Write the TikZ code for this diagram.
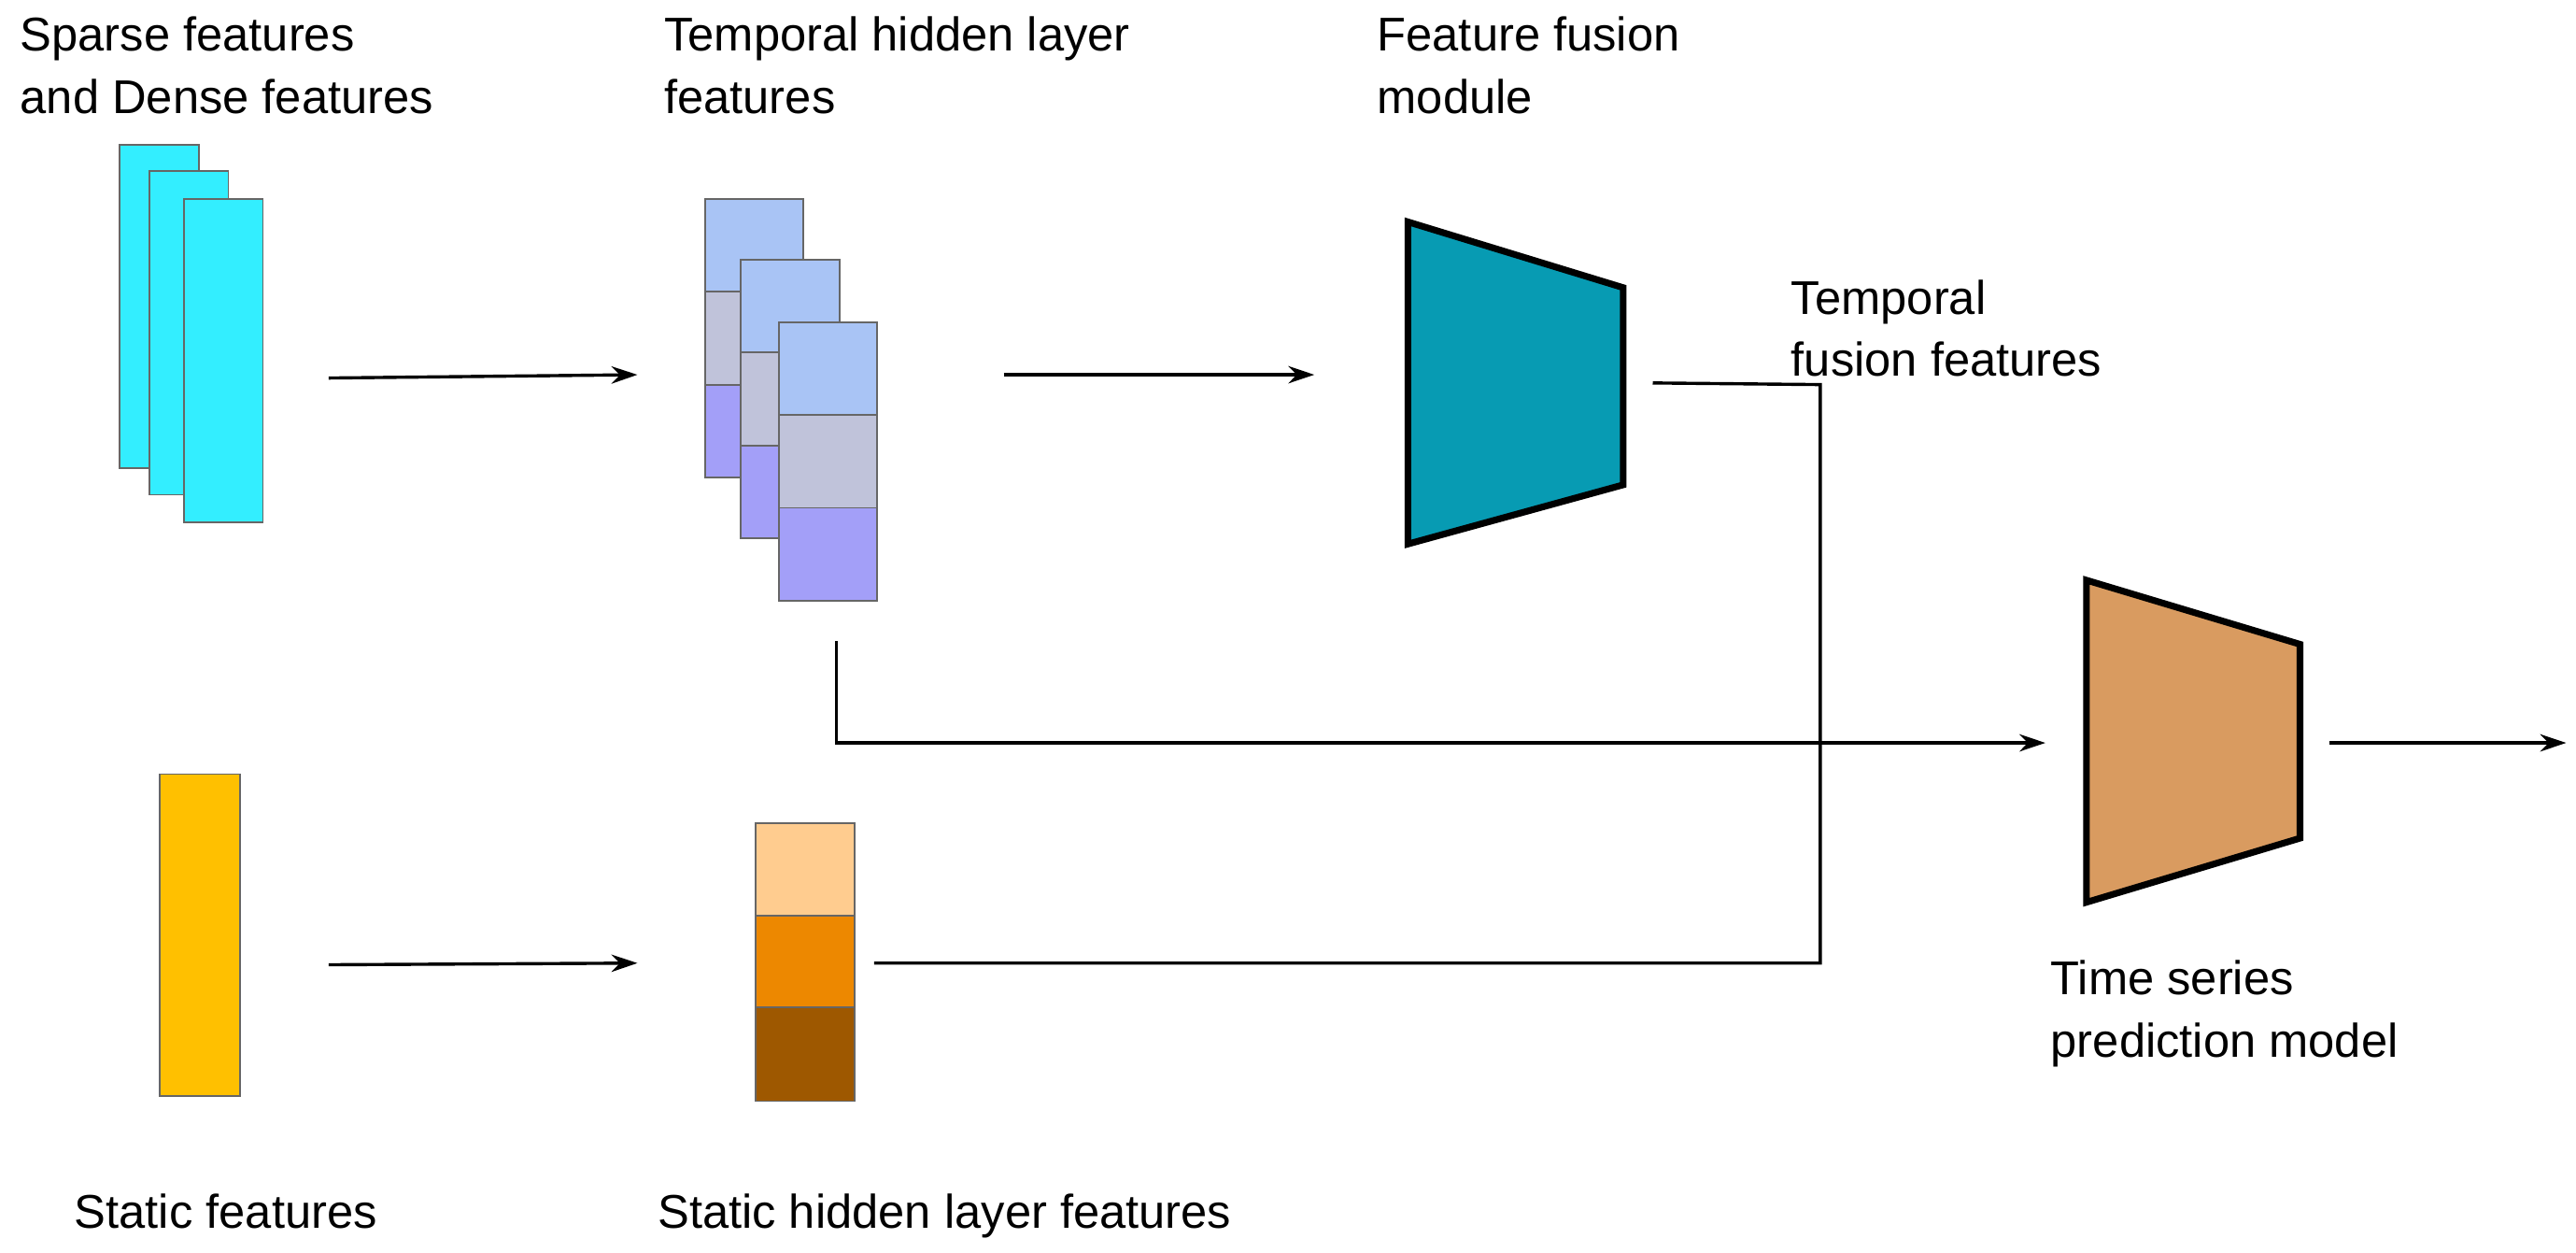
\documentclass[tikz,border=0pt]{standalone}
\usepackage{fontspec}
\setmainfont{Liberation Sans}
\usetikzlibrary{arrows.meta}
\definecolor{cyanf}{HTML}{33EEFF}
\definecolor{tA}{HTML}{A9C4F5}
\definecolor{tB}{HTML}{C0C3DA}
\definecolor{tC}{HTML}{A39FF8}
\definecolor{teal}{HTML}{079BB3}
\definecolor{ora}{HTML}{D99B60}
\definecolor{yel}{HTML}{FFC000}
\definecolor{sA}{HTML}{FFCC8F}
\definecolor{sB}{HTML}{ED8800}
\definecolor{sC}{HTML}{9E5800}
\begin{document}
\begin{tikzpicture}[x=0.02cm,y=-0.02cm,
  lbl/.style={anchor=north west,align=left,inner sep=0pt,font=\fontsize{16.4}{21.5}\selectfont},
  box/.style={draw=black!60,line width=0.6pt},
  arr/.style={line width=1.1pt,-{Stealth[length=9pt,width=6pt]}},
  ln/.style={line width=1.1pt},
  trap/.style={draw=black,line width=2.3pt,line join=miter}]
\useasboundingbox (0,0) rectangle (1568,762);
% labels
\node[lbl] (l1) at (12,10) {Sparse features\\and Dense features};
\node[lbl] (l2) at (404,10) {Temporal hidden layer\\features};
\node[lbl] (l3) at (838,10) {Feature fusion\\module};
\node[lbl] (l4) at (1090,170) {Temporal\\fusion features};
\node[lbl] (l5) at (1248,584) {Time series\\prediction model};
\node[lbl] (l6) at (45,726) {Static features};
\node[lbl] (l7) at (400,726) {Static hidden layer features};
% cyan
\foreach \x/\y in {73/88,91/104,112/121}
  \draw[box,fill=cyanf] (\x,\y) rectangle ++(48,197);
% temporal stacks
\foreach \x/\y in {429/121,451/158,474/196}{
  \draw[box,fill=tA] (\x,\y) rectangle ++(60,56.5);
  \draw[box,fill=tB] (\x,\y+56.5) rectangle ++(60,56.5);
  \draw[box,fill=tC] (\x,\y+113) rectangle ++(60,56.5);
}
% yellow
\draw[box,fill=yel] (97,471) rectangle (146,667);
% static stack
\draw[box,fill=sA] (460,501) rectangle (520,557);
\draw[box,fill=sB] (460,557) rectangle (520,613);
\draw[box,fill=sC] (460,613) rectangle (520,670);
% trapezoids
\draw[trap,fill=teal] (857,135) -- (988,175) -- (988,295) -- (857,331) -- cycle;
\draw[trap,fill=ora] (1270,353) -- (1400,392) -- (1400,510) -- (1270,549) -- cycle;
% connectors
\coordinate (a1) at (200,230); \coordinate (a2) at (388,228);
\draw[arr] (a1) -- (a2);
\coordinate (b1) at (611,228); \coordinate (b2) at (800,228);
\draw[arr] (b1) -- (b2);
\coordinate (c1) at (200,587); \coordinate (c2) at (388,586);
\draw[arr] (c1) -- (c2);
\coordinate (f1) at (1006,233); \coordinate (f2) at (532,586);
\draw[ln] (f1) -- (1108,234) -- (1108,586) -- (f2);
\coordinate (g1) at (509,390); \coordinate (g2) at (1245,452);
\draw[arr] (g1) -- (509,452) -- (g2);
\coordinate (h1) at (1418,452); \coordinate (h2) at (1562,452);
\draw[arr] (h1) -- (h2);
\end{tikzpicture}
\end{document}
